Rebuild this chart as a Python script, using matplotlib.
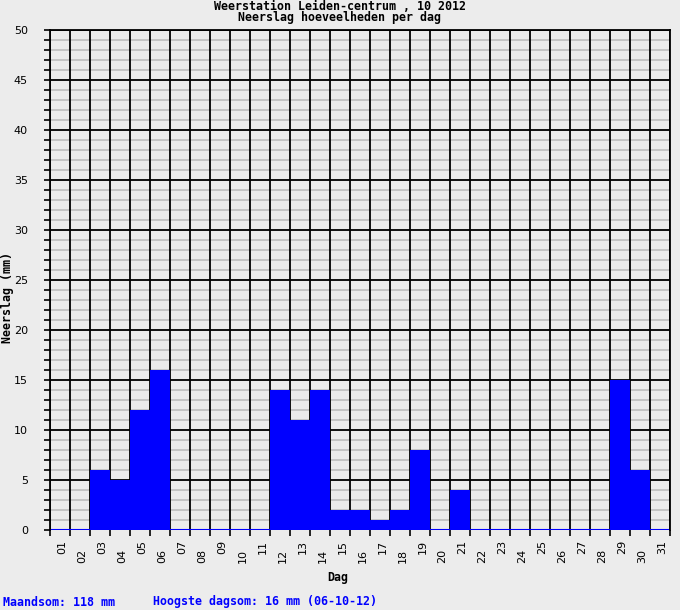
import matplotlib
matplotlib.use("Agg")
import matplotlib.pyplot as plt
import matplotlib.transforms as mtransforms

# daily rainfall, Leiden-centrum, October 2012 (mm)
days = list(range(1, 32))
rain = [0, 0, 6, 5, 12, 16, 0, 0, 0, 0, 0, 14, 11, 14, 2, 2, 1, 2, 8, 0,
        4, 0, 0, 0, 0, 0, 0, 0, 15, 6, 0]
day_labels = ["%02d" % d for d in days]
y_major = list(range(0, 51, 5))
y_minor = list(range(0, 51))

title1 = "Weerstation Leiden-centrum , 10 2012"
title2 = "Neerslag hoeveelheden per dag"
summary1 = "Maandsom: 118 mm"
summary2 = "Hoogste dagsom: 16 mm (06-10-12)"

bg = "#ececec"
mono = "DejaVu Sans Mono"

fig = plt.figure(figsize=(6.8, 6.1), dpi=100, facecolor=bg)
ax = fig.add_axes([50 / 680, 80 / 610, 620 / 680, 500 / 610])
ax.set_facecolor(bg)

ax.set_xlim(0.5, 31.5)
ax.set_ylim(0, 50)

# grid: grey every mm, black every 5 mm, black at each day boundary
bounds = [d - 0.5 for d in days] + [31.5]
for v in y_minor:
    if v not in y_major:
        ax.axhline(v, color="#bebebe", linewidth=1.2, zorder=0)
for v in y_major:
    ax.axhline(v, color="black", linewidth=1.3, zorder=1)
for b in bounds:
    ax.axvline(b, color="black", linewidth=1.3, zorder=1)

ax.set_yticks(y_major)
ax.set_yticks(y_minor, minor=True)
ax.set_xticks(bounds)

ax.bar(days, rain, width=1.0, color="#0000ff", linewidth=0, zorder=2)
ax.axhline(0, color="#0000ff", linewidth=1.5, zorder=3)

for s in ax.spines.values():
    s.set_color("black")
    s.set_linewidth(1.3)
    s.set_zorder(4)
ax.spines["bottom"].set_visible(False)

ax.tick_params(axis="both", which="both", length=4, width=1.2, color="black",
               direction="out")
ax.tick_params(axis="x", labelbottom=False)
ax.tick_params(axis="y", labelsize=8, pad=12)

# alternating day labels under the bars
trans = mtransforms.blended_transform_factory(ax.transData, fig.transFigure)
for d, lab in zip(days, day_labels):
    y = 1 - 540 / 610 if d % 2 == 1 else 1 - 549 / 610
    ax.text(d + 0.125, y, lab, rotation=90, ha="center", va="top",
            fontsize=8, transform=trans, clip_on=False)

fs = 8.4
fig.text(340 / 680, 1 - 12 / 610, title1 + "\n" + title2, ha="center",
         va="center", multialignment="center", linespacing=0.85,
         family=mono, weight="bold", fontsize=fs)
fig.text(338 / 680, 1 - 577 / 610, "Dag", ha="center", va="center",
         family=mono, weight="bold", fontsize=fs)
fig.text(8 / 680, 1 - 298 / 610, "Neerslag (mm)", ha="center", va="center",
         rotation=90, family=mono, weight="bold", fontsize=fs)
fig.text(3 / 680, 1 - 602 / 610, summary1, ha="left", va="center",
         family=mono, weight="bold", fontsize=fs, color="#0000ff")
fig.text(153 / 680, 1 - 602 / 610, summary2, ha="left", va="center",
         family=mono, weight="bold", fontsize=fs, color="#0000ff")

fig.savefig("out.png", dpi=100, facecolor=bg)
